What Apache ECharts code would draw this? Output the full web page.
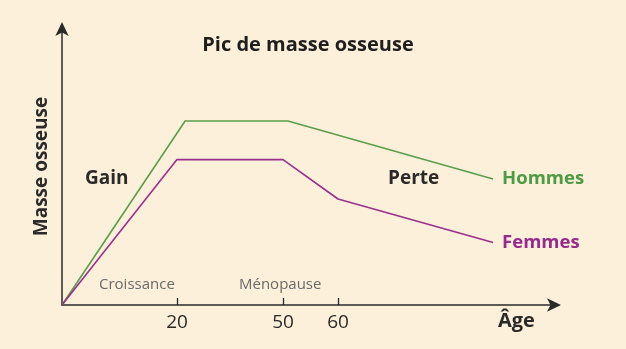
<!DOCTYPE html>
<html><head><meta charset="utf-8">
<script src="https://cdn.jsdelivr.net/npm/echarts@6/dist/echarts.min.js"></script>
<style>html,body{margin:0;padding:0;background:#fdf0da;}#c{width:626px;height:349px;}</style>
</head><body><div id="c"></div>
<script>
// Schematic age axis: piecewise scale (ages -> axis units)
const scaleAges = [0, 20, 50, 60, 100];
const scaleUnits = [0, 115, 221, 276, 496];
const tickAges = [20, 50, 60];
const hommesAges = [0, 22.3, 50.9, 88.2];
const hommesMass = [0, 100, 100, 68.5];
const femmesAges = [0, 20, 50, 60, 88.2];
const femmesMass = [0, 79, 79, 57.6, 34];

function ageToUnit(a){
  for(let i=1;i<scaleAges.length;i++){
    if(a<=scaleAges[i]){
      const t=(a-scaleAges[i-1])/(scaleAges[i]-scaleAges[i-1]);
      return scaleUnits[i-1]+t*(scaleUnits[i]-scaleUnits[i-1]);
    }
  }
  return scaleUnits[scaleUnits.length-1];
}
function unitToAge(u){
  for(let i=1;i<scaleUnits.length;i++){
    if(u<=scaleUnits[i]+1e-6){
      const t=(u-scaleUnits[i-1])/(scaleUnits[i]-scaleUnits[i-1]);
      return Math.round(scaleAges[i-1]+t*(scaleAges[i]-scaleAges[i-1]));
    }
  }
  return scaleAges[scaleAges.length-1];
}
const tickUnits = tickAges.map(ageToUnit);
const FONT = '"Open Sans", sans-serif';
const chart = echarts.init(document.getElementById('c'));
chart.setOption({
  backgroundColor:'#fdf0da',
  animation:false,
  grid:{left:62,right:71,top:28,bottom:44},
  xAxis:{type:'value',min:0,max:493,
    axisLine:{show:true,symbol:['none','arrow'],symbolSize:[10,14],symbolOffset:[0,6],lineStyle:{color:'#2a2a2a',width:1.5}},
    axisTick:{show:true,inside:true,length:7,customValues:tickUnits,lineStyle:{color:'#2a2a2a',width:1.3}},
    axisLabel:{show:true,customValues:tickUnits,formatter:v=>String(unitToAge(v)),color:'#2a2a2a',fontSize:19,fontFamily:FONT,margin:8},
    splitLine:{show:false}},
  yAxis:{type:'value',min:0,max:150.5,
    name:'Masse osseuse',nameLocation:'middle',nameGap:11,nameRotate:90,
    nameTextStyle:{fontSize:19,fontWeight:'bold',color:'#2a2a2a',fontFamily:FONT},
    axisLine:{show:true,symbol:['none','arrow'],symbolSize:[10,14],symbolOffset:[0,6],lineStyle:{color:'#2a2a2a',width:1.5}},
    axisTick:{show:false},axisLabel:{show:false},splitLine:{show:false}},
  series:[
    {name:'Hommes',type:'line',symbol:'none',data:hommesAges.map((a,i)=>[ageToUnit(a),hommesMass[i]]),
     lineStyle:{color:'#5a9e4b',width:1.6},itemStyle:{color:'#5a9e4b'},
     endLabel:{show:true,formatter:'{a}',color:'#4f9a45',fontSize:18.5,fontWeight:'bold',fontFamily:FONT,distance:9}},
    {name:'Femmes',type:'line',symbol:'none',data:femmesAges.map((a,i)=>[ageToUnit(a),femmesMass[i]]),
     lineStyle:{color:'#9a2f8e',width:1.6},itemStyle:{color:'#9a2f8e'},
     endLabel:{show:true,formatter:'{a}',color:'#962b8c',fontSize:18.5,fontWeight:'bold',fontFamily:FONT,distance:9}}
  ],
  graphic:[
    {type:'text',x:308,y:45,style:{text:'Pic de masse osseuse',font:'bold 20px '+FONT,fill:'#1e1e1e',align:'center',verticalAlign:'middle'}},
    {type:'text',x:85,y:179,style:{text:'Gain',font:'bold 19px '+FONT,fill:'#2a2a2a',verticalAlign:'middle'}},
    {type:'text',x:388,y:179,style:{text:'Perte',font:'bold 19px '+FONT,fill:'#2a2a2a',verticalAlign:'middle'}},
    {type:'text',x:99,y:285,style:{text:'Croissance',font:'15px '+FONT,fill:'#6a6a6a',verticalAlign:'middle'}},
    {type:'text',x:239,y:285,style:{text:'Ménopause',font:'15px '+FONT,fill:'#6a6a6a',verticalAlign:'middle'}},
    {type:'text',x:498,y:321,style:{text:'Âge',font:'bold 20px '+FONT,fill:'#2a2a2a',verticalAlign:'middle'}}
  ]
});
</script></body></html>
